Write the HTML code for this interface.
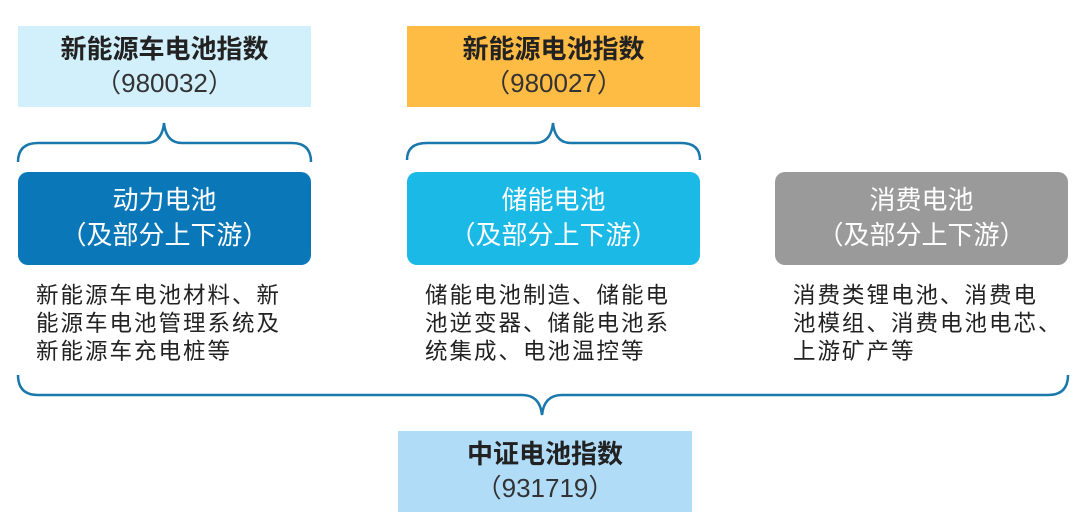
<!DOCTYPE html>
<html><head><meta charset="utf-8"><style>
body{margin:0;width:1080px;height:531px;background:#fff;position:relative;overflow:hidden;font-family:"Liberation Sans","Noto Sans CJK SC",sans-serif}
.b{position:absolute;text-align:center;box-sizing:border-box}
.t{font-size:26px;font-weight:bold;color:#222;line-height:34px;padding-top:6px}
.t span{font-weight:normal;color:#333}
.c{font-size:26px;color:#fff;line-height:35px;padding-top:11px;border-radius:10px;height:93px;top:172px;width:293px}
.d{position:absolute;font-size:22.5px;letter-spacing:2px;color:#222;line-height:28px;top:282px;width:300px;white-space:nowrap}
</style></head><body>
<div class="b t" style="left:18px;top:26px;width:293px;height:81px;background:#d2f0fb">新能源车电池指数<br><span>（980032）</span></div>
<div class="b t" style="left:407px;top:26px;width:293px;height:81px;background:#ffbc45">新能源电池指数<br><span>（980027）</span></div>
<div class="b t" style="left:398px;top:431px;width:294px;height:81px;background:#b0dcf8">中证电池指数<br><span>（931719）</span></div>
<svg width="1080" height="531" style="position:absolute;left:0;top:0" fill="none" stroke="#1a78ad" stroke-width="2.5">
<path d="M18 162 Q18 143 38 143 L146 143 Q162 143 164 123 Q166 143 182 143 L292 143 Q311 143 311 162"/>
<path d="M407 160 Q407 143 427 143 L535 143 Q551 143 553 123 Q555 143 571 143 L681 143 Q700 143 700 160"/>
<path d="M18 375 Q18 395 38 395 L522 395 Q540 395 542 415 Q544 395 562 395 L1048 395 Q1068 395 1068 375"/>
</svg>
<div class="b c" style="left:18px;background:#0a78b8">动力电池<br>（及部分上下游）</div>
<div class="b c" style="left:407px;background:#1bb9e6">储能电池<br>（及部分上下游）</div>
<div class="b c" style="left:775px;background:#9a9a9a">消费电池<br>（及部分上下游）</div>
<div class="d" style="left:36px">新能源车电池材料、新<br>能源车电池管理系统及<br>新能源车充电桩等</div>
<div class="d" style="left:425px">储能电池制造、储能电<br>池逆变器、储能电池系<br>统集成、电池温控等</div>
<div class="d" style="left:793px">消费类锂电池、消费电<br>池模组、消费电池电芯、<br>上游矿产等</div>
</body></html>
